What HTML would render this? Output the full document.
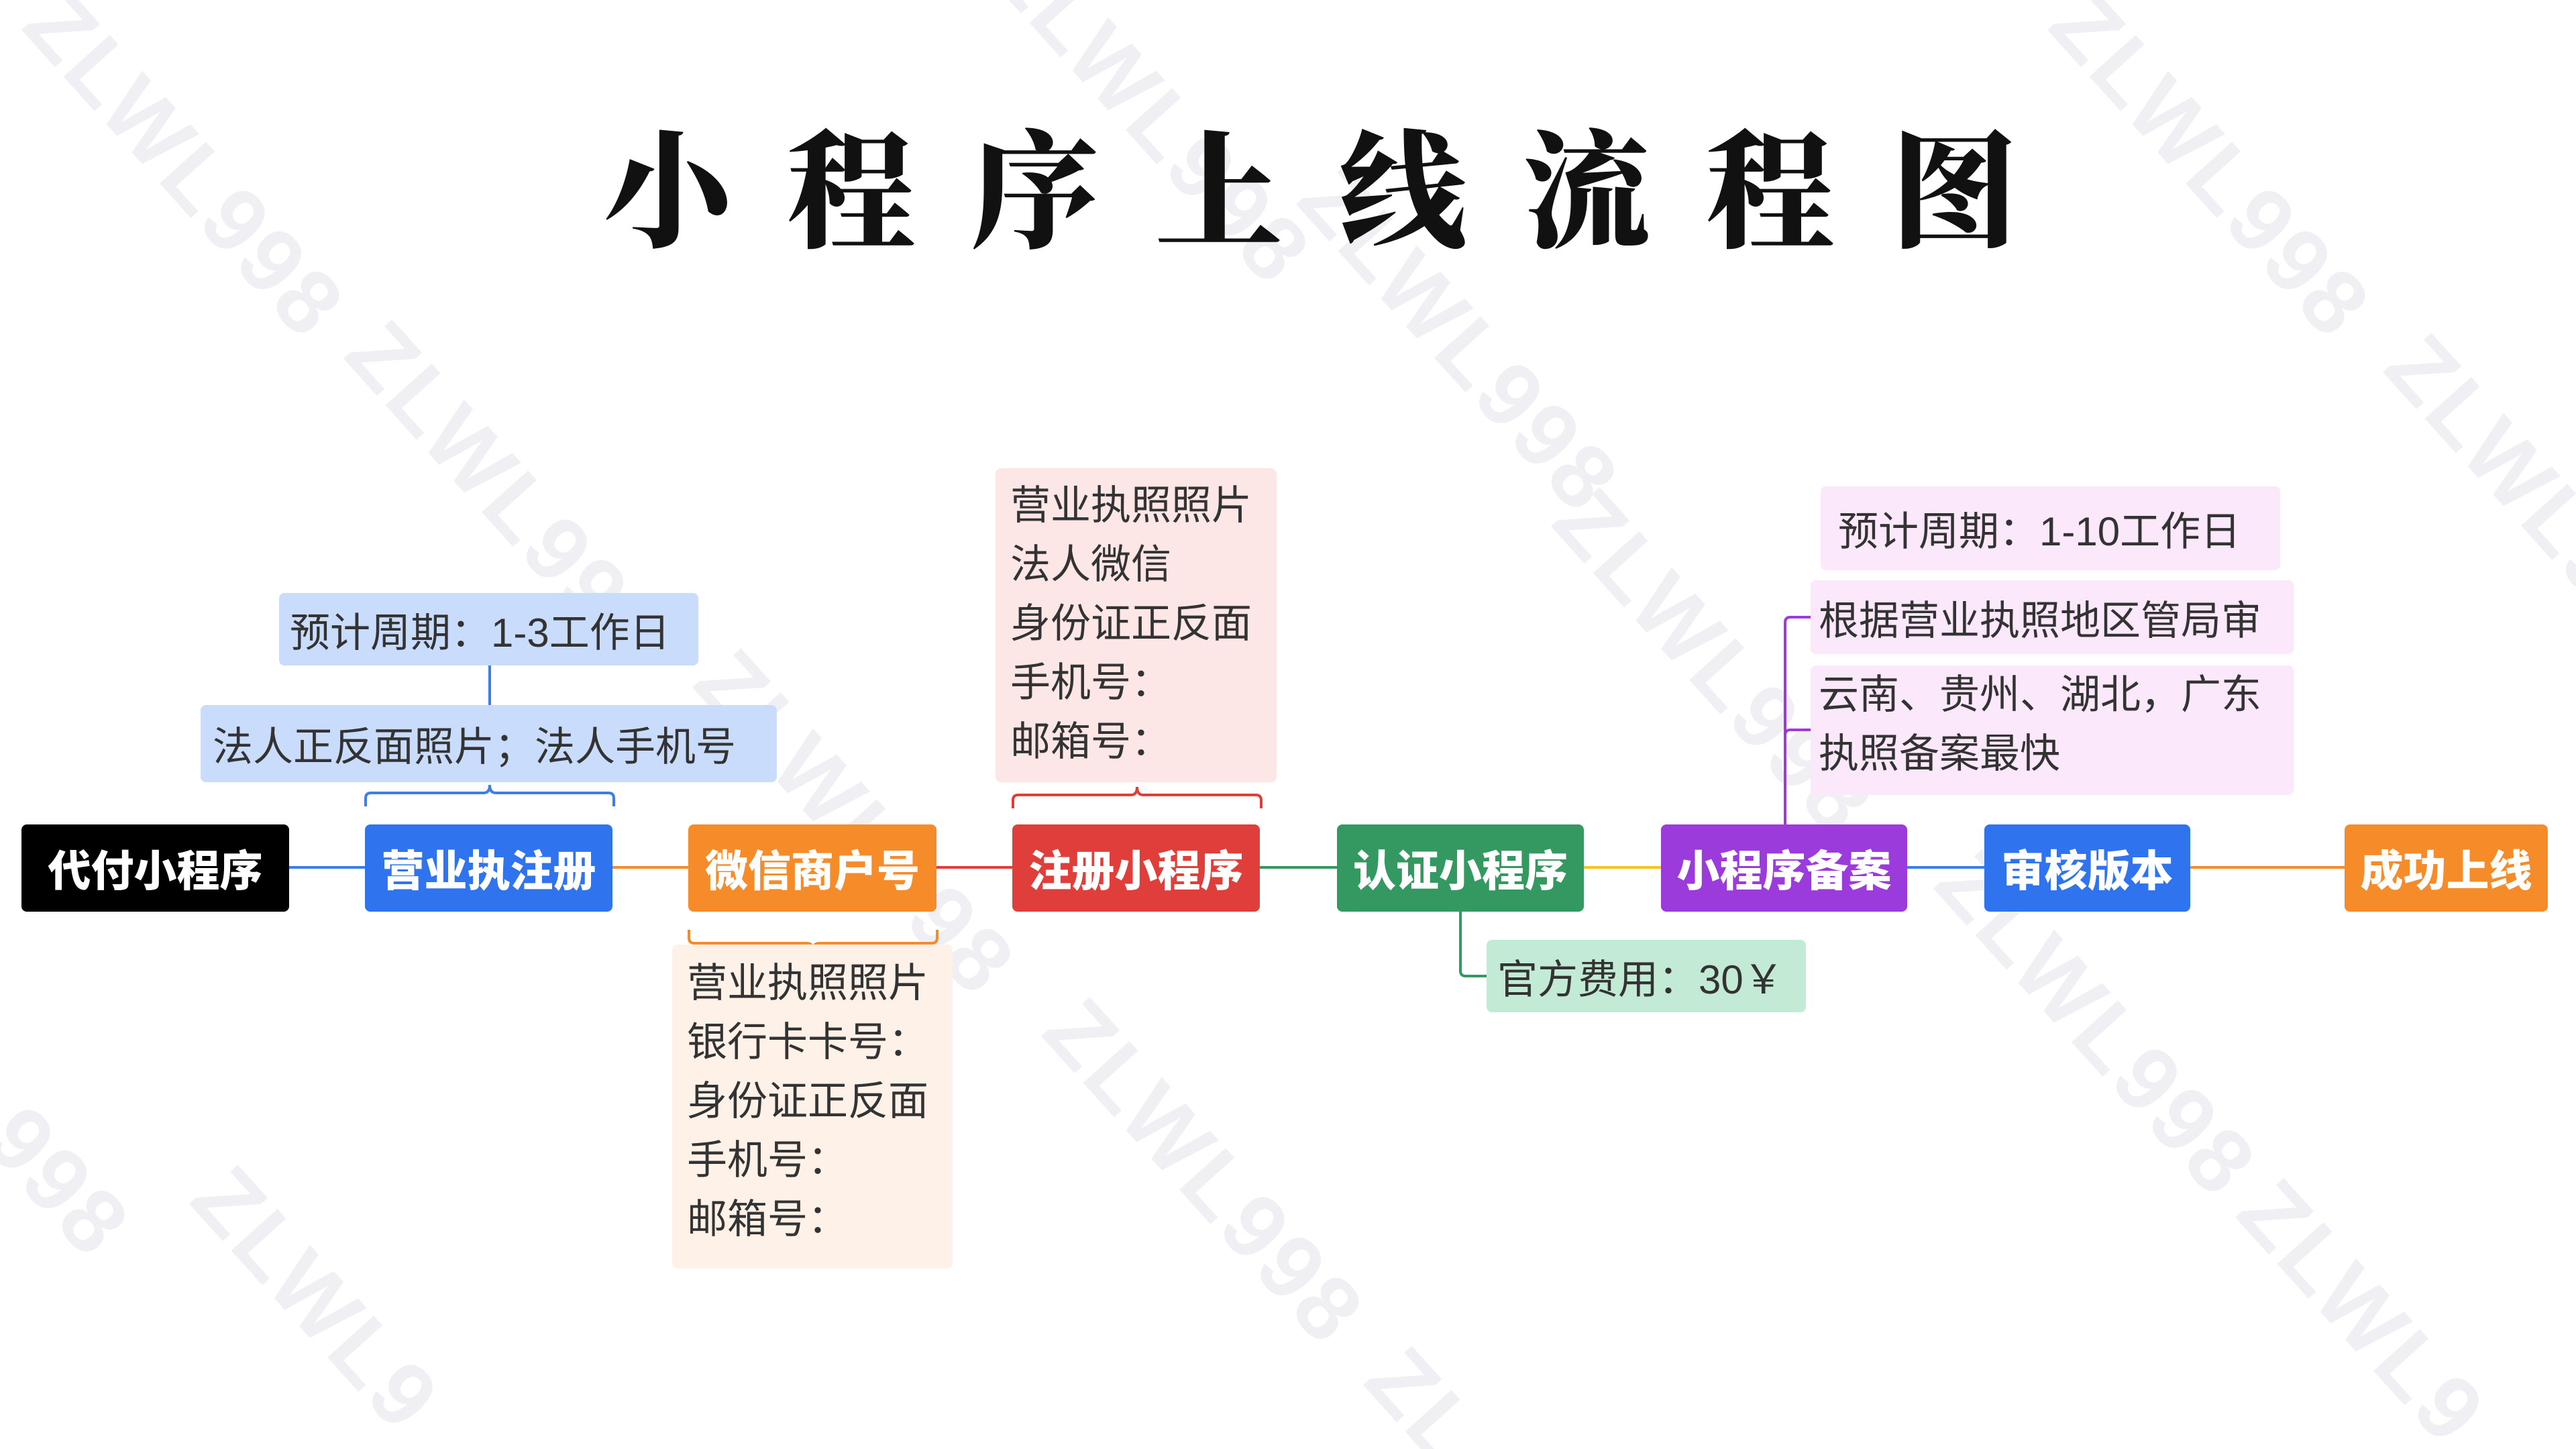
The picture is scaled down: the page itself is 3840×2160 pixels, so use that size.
<!DOCTYPE html>
<html style="width:3840px;height:2160px;overflow:hidden"><head><meta charset="utf-8"><style>
*{margin:0;padding:0;box-sizing:border-box}
body{width:3840px;height:2160px;background:#fff;overflow:hidden;font-family:"Liberation Sans","Noto Sans CJK SC",sans-serif}
#w{position:relative;width:3840px;height:2160px;overflow:hidden;background:#fff}
.n{position:absolute;top:1229px;height:130px;border-radius:8px;color:#fff;font:900 64px "Noto Sans CJK SC",sans-serif;display:flex;align-items:center;justify-content:center}
.l{position:absolute;border-radius:8px;font:400 60px "Liberation Sans","Noto Sans CJK SC",sans-serif;color:#333;padding-left:22px;display:flex;align-items:center;white-space:nowrap}
.m{position:absolute;border-radius:8px;font:400 60px "Liberation Sans","Noto Sans CJK SC",sans-serif;color:#333;line-height:88px;padding:14px 0 0 22px;white-space:nowrap}
h1{position:absolute;left:900px;top:135px;width:2140px;font:900 190px "Noto Serif CJK SC",serif;color:#111;letter-spacing:84px;white-space:nowrap}
</style></head><body><div id="w">
<svg width="3840" height="2160" style="position:absolute;left:0;top:0;overflow:hidden" font-family="Liberation Sans, sans-serif" font-weight="bold" font-size="135" fill="#f0f0f4" letter-spacing="6">
<g transform="translate(120,-40) rotate(48)"><text y="122">ZLWL998</text></g>
<g transform="translate(1560,-120) rotate(48)"><text y="122">ZLWL998</text></g>
<g transform="translate(3140,-40) rotate(48)"><text y="122">ZLWL998</text></g>
<g transform="translate(600,450) rotate(48)"><text y="122">ZLWL998</text></g>
<g transform="translate(2020,220) rotate(48)"><text y="122">ZLWL998</text></g>
<g transform="translate(2400,700) rotate(48)"><text y="122">ZLWL998</text></g>
<g transform="translate(1120,940) rotate(48)"><text y="122">ZLWL998</text></g>
<g transform="translate(3640,470) rotate(48)"><text y="122">ZLWL998</text></g>
<g transform="translate(-200,1330) rotate(48)"><text y="122">ZLWL998</text></g>
<g transform="translate(2970,1240) rotate(48)"><text y="122">ZLWL998</text></g>
<g transform="translate(1640,1460) rotate(48)"><text y="122">ZLWL998</text></g>
<g transform="translate(370,1710) rotate(48)"><text y="122">ZLWL9</text></g>
<g transform="translate(3420,1730) rotate(48)"><text y="122">ZLWL9</text></g>
<g transform="translate(2120,1980) rotate(48)"><text y="122">ZL</text></g>
</svg>

<h1>小程序上线流程图</h1>

<svg width="3840" height="2160" style="position:absolute;left:0;top:0" fill="none" stroke-width="4">
<line x1="430" y1="1293" x2="545" y2="1293" stroke="#3b7ded"/>
<line x1="913" y1="1293" x2="1027" y2="1293" stroke="#f68b2a"/>
<line x1="1396" y1="1293" x2="1510" y2="1293" stroke="#e03e3a"/>
<line x1="1878" y1="1293" x2="1994" y2="1293" stroke="#339961"/>
<line x1="2361" y1="1293" x2="2477" y2="1293" stroke="#f5c518"/>
<line x1="2843" y1="1293" x2="2959" y2="1293" stroke="#3b7ded"/>
<line x1="3265" y1="1293" x2="3496" y2="1293" stroke="#f68b2a"/>
<line x1="730" y1="992" x2="730" y2="1051" stroke="#3b7ded"/>
<path d="M545 1202 v-12 q0-8 8-8 h168 q9 0 9-12 q0 12 9 12 h168 q8 0 8 8 v12" stroke="#3b7ded"/>
<path d="M1027 1386 v12 q0 8 8 8 h168 q9 0 9 12 q0-12 9-12 h168 q8 0 8-8 v-12" stroke="#f68b2a"/>
<path d="M1510 1205 v-12 q0-8 8-8 h168 q9 0 9-12 q0 12 9 12 h168 q8 0 8 8 v12" stroke="#e03e3a"/>
<path d="M2177 1359 v88 q0 8 8 8 h31" stroke="#339961"/>
<path d="M2661 1229 V928 q0-8 8-8 h30 M2661 1096 q0-8 8-8 h30" stroke="#9b3bdb"/>
</svg>

<div class="n" style="left:32px;width:399px;background:#000">代付小程序</div>
<div class="n" style="left:544px;width:369px;background:#2f74ee">营业执注册</div>
<div class="n" style="left:1026px;width:370px;background:#f68b2a">微信商户号</div>
<div class="n" style="left:1509px;width:369px;background:#e03e3a">注册小程序</div>
<div class="n" style="left:1993px;width:368px;background:#339961">认证小程序</div>
<div class="n" style="left:2476px;width:367px;background:#9b3bdb">小程序备案</div>
<div class="n" style="left:2958px;width:307px;background:#2f74ee">审核版本</div>
<div class="n" style="left:3495px;width:303px;background:#f68b2a">成功上线</div>

<div class="l" style="left:416px;top:884px;width:625px;height:108px;background:#c9dcfc;padding-left:16px">预计周期：1-3工作日</div>
<div class="l" style="left:299px;top:1051px;width:859px;height:115px;background:#c9dcfc;padding-left:18px">法人正反面照片；法人手机号</div>
<div class="m" style="left:1002px;top:1408px;width:418px;height:483px;background:#fef1e8">营业执照照片<br>银行卡卡号：<br>身份证正反面<br>手机号：<br>邮箱号：</div>
<div class="m" style="left:1484px;top:698px;width:419px;height:468px;background:#fde6e6;padding-top:12px">营业执照照片<br>法人微信<br>身份证正反面<br>手机号：<br>邮箱号：</div>
<div class="l" style="left:2216px;top:1401px;width:476px;height:108px;background:#c3ead5;padding-left:16px">官方费用：30￥</div>
<div class="l" style="left:2714px;top:725px;width:685px;height:125px;background:#fbe8fb;padding-left:26px">预计周期：1-10工作日</div>
<div class="l" style="left:2699px;top:865px;width:720px;height:110px;background:#fbe8fb;padding-left:12px">根据营业执照地区管局审</div>
<div class="m" style="left:2699px;top:992px;width:720px;height:193px;background:#fbe8fb;padding:0 0 0 12px">云南、贵州、湖北，广东<br>执照备案最快</div>
</div></body></html>
